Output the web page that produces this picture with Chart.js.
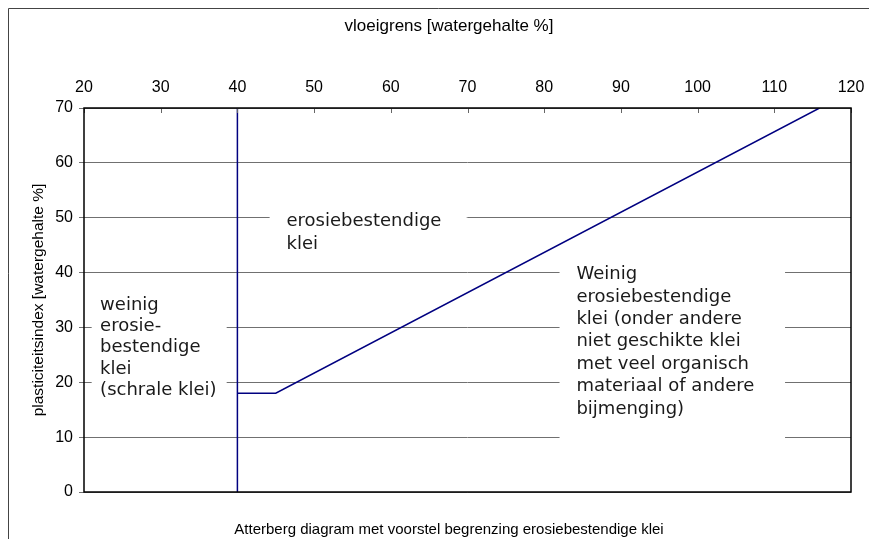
<!DOCTYPE html>
<html>
<head>
<meta charset="utf-8">
<title>Atterberg diagram</title>
<script src="https://cdn.jsdelivr.net/npm/chart.js@4.4.1/dist/chart.umd.min.js"></script>
<style>
    html, body { margin: 0; padding: 0; background: #fff; }
</style>
</head>
<body>
<canvas id="atterberg" width="869" height="539"></canvas>
<script>
"use strict";

// tick labels on both axes
var llTicks = [20, 30, 40, 50, 60, 70, 80, 90, 100, 110, 120];
var piTicks = [0, 10, 20, 30, 40, 50, 60, 70];

// vertical boundary at vloeigrens 40
var boundaryLL = [40, 40];
var boundaryPI = [0, 70];

// sloping boundary (A-line), starts flat at 18
var aLineLL = [40, 45, 115.9];
var aLinePI = [18, 18, 70];

var xTitle = "vloeigrens [watergehalte %]";
var yTitle = "plasticiteitsindex [watergehalte %]";
var chartTitle = "Atterberg diagram met voorstel begrenzing erosiebestendige klei";

// texts inside the plot
var noteTop = ["erosiebestendige", "klei"];
var noteLeft = ["weinig", "erosie-", "bestendige", "klei", "(schrale klei)"];
var noteRight = ["Weinig", "erosiebestendige", "klei (onder andere", "niet geschikte klei",
                 "met veel organisch", "materiaal of andere", "bijmenging)"];

// where the text boxes sit, in axis units: box = [llMin, llMax, piMin, piMax], at = first baseline
var notes = [
    { lines: noteTop,   box: [44.2, 69.9, 41.9, 53.2], at: [46.4, 48.5], lh: 23 },
    { lines: noteLeft,  box: [21.0, 38.6, 15.9, 36.8], at: [22.1, 33.2], lh: 21.3 },
    { lines: noteRight, box: [82.0, 111.4, 8.6, 43.2], at: [84.2, 38.8], lh: 22.4 }
];

function toPoints(xs, ys) {
    return xs.map(function(x, i) { return { x: x, y: ys[i] }; });
}

var axisFont = '"Liberation Sans", Arial, sans-serif';
// the original chart object is wider than the picture; titles centre on it
var chartCenterX = 449;

var decor = {
    id: 'decor',
    beforeDraw: function(chart) {
        // outer chart border (left and top only visible)
        var ctx = chart.ctx;
        ctx.save();
        ctx.strokeStyle = '#444';
        ctx.lineWidth = 1;
        ctx.beginPath();
        ctx.moveTo(8.5, 539);
        ctx.lineTo(8.5, 8.5);
        ctx.lineTo(869, 8.5);
        ctx.stroke();
        ctx.restore();
    },
    beforeDatasetsDraw: function(chart) {
        var ctx = chart.ctx, sx = chart.scales.x, sy = chart.scales.y;
        ctx.save();
        notes.forEach(function(n) {
            var x0 = sx.getPixelForValue(n.box[0]), x1 = sx.getPixelForValue(n.box[1]);
            var y0 = sy.getPixelForValue(n.box[3]), y1 = sy.getPixelForValue(n.box[2]);
            ctx.fillStyle = '#fff';
            ctx.fillRect(x0, y0, x1 - x0, y1 - y0);
            ctx.fillStyle = '#1a1a1a';
            ctx.font = '18px "DejaVu Sans", Verdana, sans-serif';
            ctx.textAlign = 'left';
            ctx.textBaseline = 'alphabetic';
            var tx = sx.getPixelForValue(n.at[0]), ty = sy.getPixelForValue(n.at[1]);
            n.lines.forEach(function(t, i) {
                ctx.fillText(t, tx, ty + i * n.lh);
            });
        });
        ctx.restore();
    },
    afterDatasetsDraw: function(chart) {
        var ctx = chart.ctx, a = chart.chartArea, sx = chart.scales.x;
        ctx.save();
        // small inside ticks under the top axis
        ctx.strokeStyle = '#666';
        ctx.lineWidth = 1;
        ctx.beginPath();
        llTicks.forEach(function(v) {
            var px = Math.round(sx.getPixelForValue(v)) + 0.5;
            ctx.moveTo(px, a.top);
            ctx.lineTo(px, a.top + 5);
        });
        ctx.stroke();
        // plot frame
        ctx.strokeStyle = '#000';
        ctx.lineWidth = 1.5;
        ctx.strokeRect(a.left, a.top, a.right - a.left, a.bottom - a.top);

        // axis title on top and chart caption at the bottom
        ctx.fillStyle = '#000';
        ctx.textAlign = 'center';
        ctx.textBaseline = 'middle';
        ctx.font = '17px ' + axisFont;
        ctx.fillText(xTitle, chartCenterX, 26);
        ctx.font = '15px ' + axisFont;
        ctx.fillText(chartTitle, chartCenterX, a.bottom + 38);
        ctx.restore();
    }
};

new Chart(document.getElementById('atterberg').getContext('2d'), {
    type: 'scatter',
    data: {
        datasets: [
            {
                data: toPoints(boundaryLL, boundaryPI),
                showLine: true,
                borderColor: '#000080',
                borderWidth: 1.5,
                pointRadius: 0,
                fill: false
            },
            {
                data: toPoints(aLineLL, aLinePI),
                showLine: true,
                borderColor: '#000080',
                borderWidth: 1.5,
                pointRadius: 0,
                fill: false
            }
        ]
    },
    options: {
        responsive: false,
        animation: false,
        layout: { padding: { left: 23, right: 18, top: 12, bottom: 47 } },
        plugins: {
            legend: { display: false },
            tooltip: { enabled: false },
            title: { display: false }
        },
        scales: {
            x: {
                type: 'linear',
                position: 'top',
                min: 20,
                max: 120,
                afterBuildTicks: function(s) { s.ticks = llTicks.map(function(v) { return { value: v }; }); },
                afterFit: function(s) {
                    s.height = 96;
                    // labels at the ends may hang over the padding
                    s.paddingLeft = 0;
                    s.paddingRight = 0;
                },
                grid: { display: false, tickLength: 0 },
                border: { display: false },
                ticks: { color: '#000', font: { family: axisFont, size: 16 }, padding: 11, maxRotation: 0 }
            },
            y: {
                type: 'linear',
                min: 0,
                max: 70,
                afterBuildTicks: function(s) { s.ticks = piTicks.map(function(v) { return { value: v }; }); },
                afterFit: function(s) { s.width = 61; },
                grid: { color: '#707070', lineWidth: 1, tickLength: 5 },
                border: { display: false },
                ticks: { color: '#000', font: { family: axisFont, size: 16 }, padding: 6 },
                title: {
                    display: true,
                    text: yTitle,
                    color: '#000',
                    font: { family: axisFont, size: 15.5 },
                    padding: { top: 6, bottom: 4 }
                }
            }
        }
    },
    plugins: [decor]
});
</script>
</body>
</html>
